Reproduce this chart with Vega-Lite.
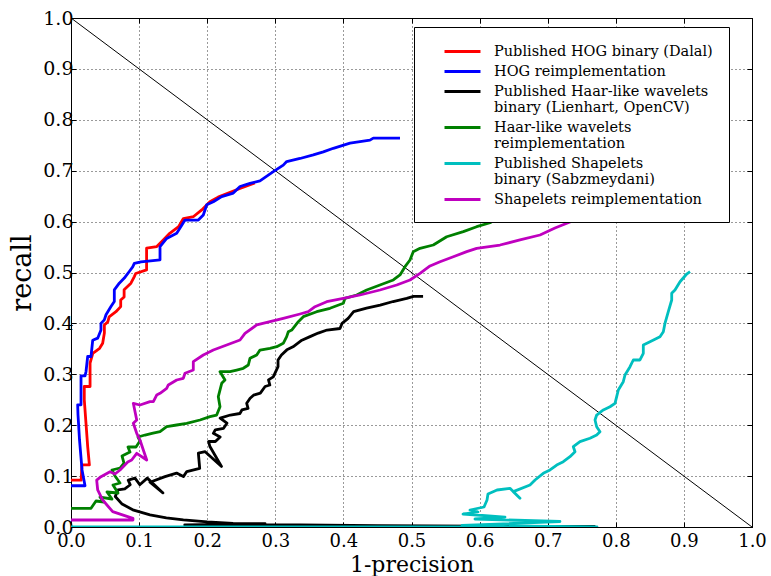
{
  "$schema": "https://vega.github.io/schema/vega-lite/v6.json",
  "width": 681,
  "height": 509,
  "autosize": {"type": "none"},
  "padding": {"left": 71, "top": 18, "right": 19, "bottom": 49},
  "config": {
    "view": {"stroke": "#000000", "strokeWidth": 1},
    "font": "DejaVu Serif",
    "style": {"guide-label": {"font": "DejaVu Serif", "lineHeight": 16}},
    "legend": {"labelFont": "DejaVu Serif"},
    "axis": {
      "labelFont": "DejaVu Serif", "labelColor": "#000000", "tickColor": "#000000", "tickWidth": 1,
      "titleFont": "DejaVu Serif", "titleFontWeight": "normal", "titleColor": "#000000",
      "domain": false, "labelFlush": false, "labelOverlap": false,
      "gridColor": "#000000", "gridDash": [1, 3], "gridWidth": 0.8, "gridOpacity": 1
    }
  },
  "datasets": {
    "diag": [{"x": 0, "y": 1}, {"x": 1, "y": 0}],
    "dalal": [{"x":0,"y":0.092},{"x":0.015,"y":0.092},{"x":0.016,"y":0.122},{"x":0.027,"y":0.122},{"x":0.0245,"y":0.158},{"x":0.022,"y":0.204},{"x":0.0195,"y":0.25},{"x":0.0195,"y":0.276},{"x":0.028,"y":0.276},{"x":0.028,"y":0.322},{"x":0.032,"y":0.341},{"x":0.042,"y":0.351},{"x":0.0465,"y":0.361},{"x":0.049,"y":0.381},{"x":0.049,"y":0.397},{"x":0.054,"y":0.403},{"x":0.056,"y":0.413},{"x":0.066,"y":0.423},{"x":0.073,"y":0.433},{"x":0.073,"y":0.446},{"x":0.078,"y":0.452},{"x":0.078,"y":0.466},{"x":0.088,"y":0.479},{"x":0.093,"y":0.492},{"x":0.095,"y":0.498},{"x":0.111,"y":0.505},{"x":0.111,"y":0.548},{"x":0.126,"y":0.551},{"x":0.1355,"y":0.564},{"x":0.145,"y":0.577},{"x":0.158,"y":0.59},{"x":0.165,"y":0.606},{"x":0.18,"y":0.61},{"x":0.192,"y":0.623},{"x":0.204,"y":0.639},{"x":0.216,"y":0.648},{"x":0.231,"y":0.656},{"x":0.248,"y":0.665},{"x":0.27,"y":0.676}],
    "hog": [{"x":0,"y":0.081},{"x":0.0206,"y":0.081},{"x":0.0162,"y":0.112},{"x":0.0125,"y":0.171},{"x":0.0103,"y":0.22},{"x":0.0098,"y":0.24},{"x":0.0147,"y":0.24},{"x":0.0147,"y":0.297},{"x":0.0206,"y":0.297},{"x":0.022,"y":0.305},{"x":0.0245,"y":0.335},{"x":0.0294,"y":0.335},{"x":0.0319,"y":0.367},{"x":0.0392,"y":0.371},{"x":0.044,"y":0.387},{"x":0.044,"y":0.4},{"x":0.0489,"y":0.407},{"x":0.0514,"y":0.417},{"x":0.0587,"y":0.433},{"x":0.0636,"y":0.443},{"x":0.0636,"y":0.466},{"x":0.0709,"y":0.479},{"x":0.0783,"y":0.489},{"x":0.0856,"y":0.502},{"x":0.0906,"y":0.511},{"x":0.093,"y":0.518},{"x":0.1028,"y":0.521},{"x":0.1307,"y":0.525},{"x":0.1307,"y":0.551},{"x":0.1405,"y":0.567},{"x":0.1552,"y":0.577},{"x":0.1626,"y":0.593},{"x":0.1674,"y":0.603},{"x":0.1869,"y":0.603},{"x":0.1943,"y":0.613},{"x":0.1993,"y":0.633},{"x":0.209,"y":0.639},{"x":0.2213,"y":0.649},{"x":0.2383,"y":0.656},{"x":0.2482,"y":0.669},{"x":0.2628,"y":0.675},{"x":0.2775,"y":0.68},{"x":0.2971,"y":0.698},{"x":0.3117,"y":0.711},{"x":0.3167,"y":0.718},{"x":0.3363,"y":0.724},{"x":0.3558,"y":0.731},{"x":0.3705,"y":0.737},{"x":0.3852,"y":0.744},{"x":0.4097,"y":0.754},{"x":0.4244,"y":0.757},{"x":0.439,"y":0.76},{"x":0.4439,"y":0.764},{"x":0.4831,"y":0.764}],
    "haar": [{"x":0.77,"y":0.001},{"x":0.6,"y":0.0015},{"x":0.45,"y":0.0025},{"x":0.336,"y":0.004},{"x":0.285,"y":0.0045},{"x":0.167,"y":0.004},{"x":0.285,"y":0.0065},{"x":0.238,"y":0.0072},{"x":0.2,"y":0.01},{"x":0.165,"y":0.014},{"x":0.14,"y":0.018},{"x":0.116,"y":0.024},{"x":0.092,"y":0.033},{"x":0.075,"y":0.045},{"x":0.065,"y":0.06},{"x":0.069,"y":0.073},{"x":0.079,"y":0.075},{"x":0.087,"y":0.083},{"x":0.084,"y":0.092},{"x":0.094,"y":0.096},{"x":0.101,"y":0.083},{"x":0.112,"y":0.096},{"x":0.135,"y":0.067},{"x":0.116,"y":0.088},{"x":0.138,"y":0.099},{"x":0.155,"y":0.106},{"x":0.165,"y":0.099},{"x":0.17,"y":0.109},{"x":0.189,"y":0.115},{"x":0.187,"y":0.145},{"x":0.197,"y":0.148},{"x":0.221,"y":0.119},{"x":0.204,"y":0.158},{"x":0.202,"y":0.168},{"x":0.212,"y":0.168},{"x":0.219,"y":0.177},{"x":0.209,"y":0.184},{"x":0.212,"y":0.191},{"x":0.224,"y":0.194},{"x":0.229,"y":0.204},{"x":0.219,"y":0.214},{"x":0.234,"y":0.22},{"x":0.248,"y":0.223},{"x":0.251,"y":0.23},{"x":0.26,"y":0.233},{"x":0.258,"y":0.243},{"x":0.263,"y":0.253},{"x":0.268,"y":0.259},{"x":0.278,"y":0.263},{"x":0.285,"y":0.276},{"x":0.292,"y":0.279},{"x":0.29,"y":0.289},{"x":0.297,"y":0.295},{"x":0.304,"y":0.315},{"x":0.304,"y":0.328},{"x":0.309,"y":0.338},{"x":0.317,"y":0.348},{"x":0.326,"y":0.354},{"x":0.339,"y":0.367},{"x":0.351,"y":0.374},{"x":0.363,"y":0.381},{"x":0.376,"y":0.387},{"x":0.395,"y":0.39},{"x":0.398,"y":0.4},{"x":0.407,"y":0.41},{"x":0.415,"y":0.423},{"x":0.434,"y":0.43},{"x":0.454,"y":0.436},{"x":0.473,"y":0.443},{"x":0.493,"y":0.449},{"x":0.503,"y":0.453},{"x":0.517,"y":0.453}],
    "haarre": [{"x":0,"y":0.0367},{"x":0.0294,"y":0.0367},{"x":0.0367,"y":0.0511},{"x":0.0485,"y":0.0491},{"x":0.0426,"y":0.0589},{"x":0.0602,"y":0.055},{"x":0.0529,"y":0.0688},{"x":0.069,"y":0.0668},{"x":0.0617,"y":0.0825},{"x":0.072,"y":0.0864},{"x":0.0646,"y":0.1002},{"x":0.0602,"y":0.112},{"x":0.072,"y":0.1159},{"x":0.0778,"y":0.1257},{"x":0.0749,"y":0.1395},{"x":0.0866,"y":0.1473},{"x":0.0837,"y":0.1572},{"x":0.0954,"y":0.1572},{"x":0.1013,"y":0.169},{"x":0.0984,"y":0.1768},{"x":0.1087,"y":0.1807},{"x":0.1189,"y":0.1841},{"x":0.1307,"y":0.1872},{"x":0.1405,"y":0.197},{"x":0.1552,"y":0.2004},{"x":0.1699,"y":0.2037},{"x":0.1894,"y":0.2102},{"x":0.2041,"y":0.2167},{"x":0.2139,"y":0.22},{"x":0.2188,"y":0.2363},{"x":0.2163,"y":0.256},{"x":0.2213,"y":0.2823},{"x":0.2261,"y":0.2888},{"x":0.2188,"y":0.3051},{"x":0.2335,"y":0.3051},{"x":0.2433,"y":0.3084},{"x":0.253,"y":0.3118},{"x":0.2604,"y":0.3183},{"x":0.2628,"y":0.3314},{"x":0.2727,"y":0.3379},{"x":0.2775,"y":0.3477},{"x":0.2922,"y":0.3511},{"x":0.3021,"y":0.3542},{"x":0.3117,"y":0.3609},{"x":0.3167,"y":0.3739},{"x":0.3191,"y":0.3837},{"x":0.3241,"y":0.387},{"x":0.3338,"y":0.4033},{"x":0.3411,"y":0.4132},{"x":0.3608,"y":0.423},{"x":0.3803,"y":0.4297},{"x":0.3999,"y":0.4395},{"x":0.4023,"y":0.4493},{"x":0.4195,"y":0.4558},{"x":0.4342,"y":0.4656},{"x":0.4537,"y":0.4754},{"x":0.4733,"y":0.4853},{"x":0.4831,"y":0.4951},{"x":0.4905,"y":0.5114},{"x":0.4978,"y":0.5246},{"x":0.5026,"y":0.5409},{"x":0.5125,"y":0.5475},{"x":0.532,"y":0.554},{"x":0.5517,"y":0.5703},{"x":0.5761,"y":0.5802},{"x":0.5957,"y":0.59},{"x":0.6153,"y":0.5978},{"x":0.6241,"y":0.6051},{"x":0.6373,"y":0.6149}],
    "shapelets": [{"x":0,"y":0},{"x":0.7724,"y":0},{"x":0.5742,"y":0.003},{"x":0.718,"y":0.0108},{"x":0.5932,"y":0.0157},{"x":0.6373,"y":0.0196},{"x":0.5756,"y":0.0255},{"x":0.5977,"y":0.0295},{"x":0.5859,"y":0.0334},{"x":0.6065,"y":0.0393},{"x":0.6109,"y":0.053},{"x":0.6123,"y":0.0648},{"x":0.6256,"y":0.0727},{"x":0.6446,"y":0.076},{"x":0.6593,"y":0.0564},{"x":0.6495,"y":0.0694},{"x":0.674,"y":0.0825},{"x":0.6814,"y":0.0923},{"x":0.6935,"y":0.1055},{"x":0.7034,"y":0.112},{"x":0.7132,"y":0.1218},{"x":0.7229,"y":0.1283},{"x":0.7327,"y":0.1381},{"x":0.7401,"y":0.1479},{"x":0.7376,"y":0.1578},{"x":0.7474,"y":0.1676},{"x":0.7621,"y":0.1743},{"x":0.7719,"y":0.1807},{"x":0.7768,"y":0.1872},{"x":0.7719,"y":0.197},{"x":0.7695,"y":0.2102},{"x":0.7719,"y":0.22},{"x":0.7817,"y":0.2299},{"x":0.7915,"y":0.2363},{"x":0.7988,"y":0.243},{"x":0.8013,"y":0.256},{"x":0.8037,"y":0.2692},{"x":0.811,"y":0.2855},{"x":0.8135,"y":0.2986},{"x":0.8209,"y":0.3149},{"x":0.8257,"y":0.3281},{"x":0.8355,"y":0.3281},{"x":0.8404,"y":0.3413},{"x":0.8404,"y":0.3576},{"x":0.8502,"y":0.364},{"x":0.8649,"y":0.3739},{"x":0.8698,"y":0.3837},{"x":0.8722,"y":0.4002},{"x":0.8771,"y":0.423},{"x":0.8821,"y":0.446},{"x":0.8821,"y":0.4591},{"x":0.8869,"y":0.4656},{"x":0.8943,"y":0.4819},{"x":0.9041,"y":0.497},{"x":0.909,"y":0.5016}],
    "shapre": [{"x":0,"y":0.0138},{"x":0.091,"y":0.0138},{"x":0.091,"y":0.0171},{"x":0.0612,"y":0.0301},{"x":0.0465,"y":0.053},{"x":0.0392,"y":0.0727},{"x":0.0377,"y":0.0923},{"x":0.044,"y":0.0988},{"x":0.0573,"y":0.1086},{"x":0.0646,"y":0.1041},{"x":0.072,"y":0.112},{"x":0.0833,"y":0.1277},{"x":0.0891,"y":0.1316},{"x":0.0965,"y":0.1448},{"x":0.1112,"y":0.1316},{"x":0.1062,"y":0.1513},{"x":0.1013,"y":0.1709},{"x":0.0965,"y":0.1841},{"x":0.0915,"y":0.2037},{"x":0.0965,"y":0.2102},{"x":0.0915,"y":0.243},{"x":0.1013,"y":0.2397},{"x":0.116,"y":0.2462},{"x":0.1209,"y":0.2462},{"x":0.1258,"y":0.2593},{"x":0.1307,"y":0.2627},{"x":0.1405,"y":0.2725},{"x":0.1429,"y":0.279},{"x":0.1552,"y":0.2888},{"x":0.1649,"y":0.2921},{"x":0.1674,"y":0.302},{"x":0.1796,"y":0.3084},{"x":0.1796,"y":0.3248},{"x":0.1943,"y":0.3379},{"x":0.209,"y":0.3477},{"x":0.2286,"y":0.3576},{"x":0.2482,"y":0.3674},{"x":0.2555,"y":0.3805},{"x":0.2727,"y":0.3969},{"x":0.2922,"y":0.4033},{"x":0.3117,"y":0.41},{"x":0.3363,"y":0.4185},{"x":0.3485,"y":0.423},{"x":0.3583,"y":0.4328},{"x":0.3755,"y":0.4426},{"x":0.3999,"y":0.4493},{"x":0.4244,"y":0.4558},{"x":0.4537,"y":0.4656},{"x":0.4783,"y":0.4754},{"x":0.4978,"y":0.4853},{"x":0.5125,"y":0.4984},{"x":0.5272,"y":0.5128},{"x":0.5419,"y":0.5212},{"x":0.5614,"y":0.531},{"x":0.5811,"y":0.5409},{"x":0.5957,"y":0.5475},{"x":0.63,"y":0.554},{"x":0.6593,"y":0.5639},{"x":0.6887,"y":0.5737},{"x":0.7107,"y":0.5874},{"x":0.7327,"y":0.5992},{"x":0.7548,"y":0.613}]
  },
  "layer": [
    {
      "data": {"name": "diag"},
      "mark": {"type": "line", "color": "#000000", "strokeWidth": 1, "clip": true},
      "encoding": {
        "x": {"field": "x", "type": "quantitative", "scale": {"domain": [0, 1], "nice": false, "zero": false},
              "axis": {"orient": "top", "values": [0,0.1,0.2,0.3,0.4,0.5,0.6,0.7,0.8,0.9,1], "labels": false, "grid": false, "tickSize": -5, "title": null}},
        "y": {"field": "y", "type": "quantitative", "scale": {"domain": [0, 1], "nice": false, "zero": false},
              "axis": {"orient": "right", "values": [0,0.1,0.2,0.3,0.4,0.5,0.6,0.7,0.8,0.9,1], "labels": false, "grid": false, "tickSize": -5, "title": null}}
      }
    },
    {
      "encoding": {
        "x": {"field": "x", "type": "quantitative", "scale": {"domain": [0, 1], "nice": false, "zero": false},
              "axis": {"orient": "bottom", "values": [0,0.1,0.2,0.3,0.4,0.5,0.6,0.7,0.8,0.9,1], "format": ".1f", "grid": true, "tickSize": -5, "labelFontSize": 18, "labelPadding": 10, "title": "1-precision", "titleFontSize": 22, "titlePadding": 4}},
        "y": {"field": "y", "type": "quantitative", "scale": {"domain": [0, 1], "nice": false, "zero": false},
              "axis": {"orient": "left", "values": [0,0.1,0.2,0.3,0.4,0.5,0.6,0.7,0.8,0.9,1], "format": ".1f", "grid": true, "tickSize": -5, "labelFontSize": 19, "labelPadding": 3, "title": "recall", "titleFontSize": 27, "titlePadding": 6}},
        "order": {"value": null}
      },
      "layer": [
        {"data": {"name": "dalal"}, "mark": {"type": "line", "strokeWidth": 2.8, "strokeJoin": "round", "clip": true},
         "encoding": {"color": {"datum": "Published HOG binary (Dalal)", "type": "nominal",
           "scale": {"domain": ["Published HOG binary (Dalal)", "HOG reimplementation", "Published Haar-like wavelets\nbinary (Lienhart, OpenCV)", "Haar-like wavelets\nreimplementation", "Published Shapelets\nbinary (Sabzmeydani)", "Shapelets reimplementation"], "range": ["#ff0000", "#0000ff", "#000000", "#008000", "#00bfbf", "#bf00bf"]},
           "legend": {"orient": "none", "legendX": 343, "legendY": 9, "title": null, "fillColor": "#ffffff", "strokeColor": "#000000", "padding": 16, "cornerRadius": 0, "symbolType": "M-2.57,0H2.57", "symbolSize": 196, "symbolStrokeWidth": 3, "symbolOffset": 24, "labelOffset": 23, "labelFont": "DejaVu Serif", "labelFontSize": 14.5, "labelColor": "#000000", "labelLimit": 400, "labelExpr": "split(datum.label, '\\n')", "rowPadding": 5, "zindex": 1,
             "encode": {"labels": {"update": {"font": {"value": "DejaVu Serif"}, "fontSize": {"value": 14.5}}}}}}}},
        {"data": {"name": "hog"}, "mark": {"type": "line", "strokeWidth": 2.8, "strokeJoin": "round", "clip": true},
         "encoding": {"color": {"datum": "HOG reimplementation", "type": "nominal"}}},
        {"data": {"name": "haar"}, "mark": {"type": "line", "strokeWidth": 2.8, "strokeJoin": "round", "clip": true},
         "encoding": {"color": {"datum": "Published Haar-like wavelets\nbinary (Lienhart, OpenCV)", "type": "nominal"}}},
        {"data": {"name": "haarre"}, "mark": {"type": "line", "strokeWidth": 2.8, "strokeJoin": "round", "clip": true},
         "encoding": {"color": {"datum": "Haar-like wavelets\nreimplementation", "type": "nominal"}}},
        {"data": {"name": "shapelets"}, "mark": {"type": "line", "strokeWidth": 2.8, "strokeJoin": "round", "clip": true},
         "encoding": {"color": {"datum": "Published Shapelets\nbinary (Sabzmeydani)", "type": "nominal"}}},
        {"data": {"name": "shapre"}, "mark": {"type": "line", "strokeWidth": 2.8, "strokeJoin": "round", "clip": true},
         "encoding": {"color": {"datum": "Shapelets reimplementation", "type": "nominal"}}}
      ]
    }
  ],
  "resolve": {"axis": {"x": "independent", "y": "independent"}}
}
